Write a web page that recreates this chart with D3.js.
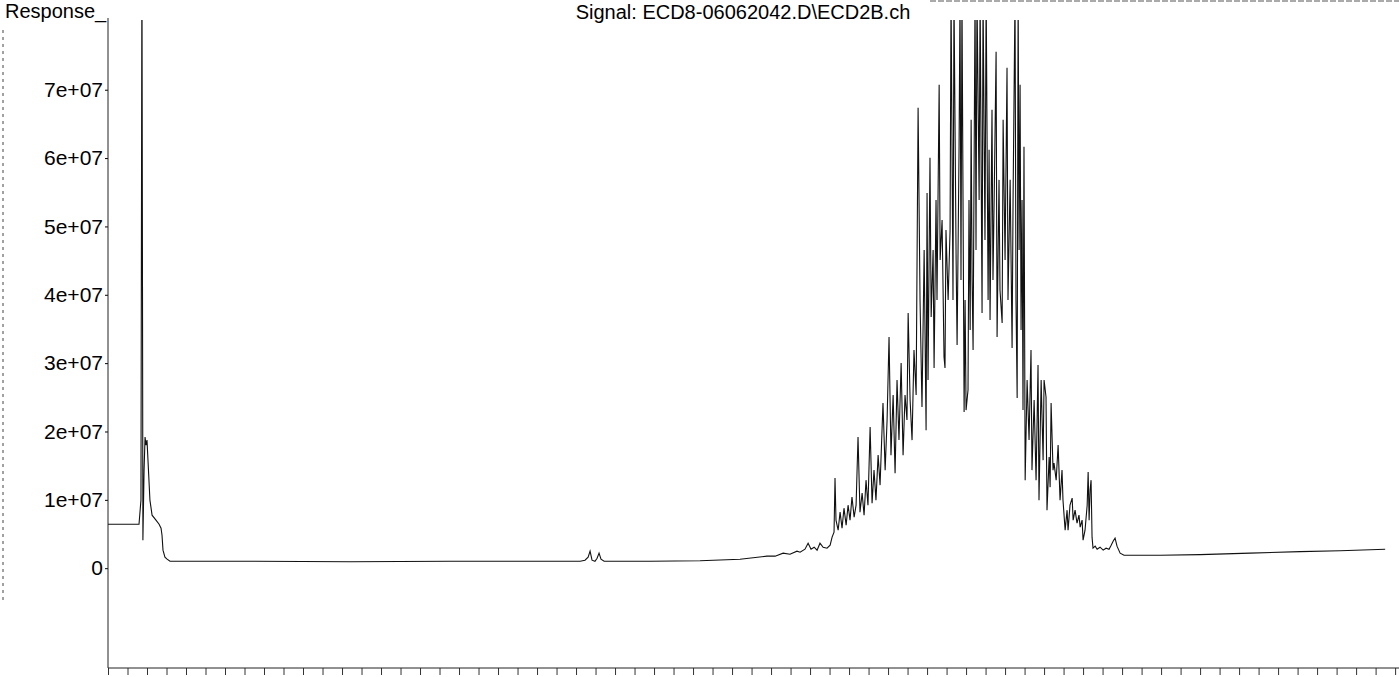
<!DOCTYPE html>
<html>
<head>
<meta charset="utf-8">
<script src="https://cdn.jsdelivr.net/npm/d3@7"></script>
<style>
  html, body { margin: 0; padding: 0; background: #fff; }
  svg { display: block; font-family: "Liberation Sans", Arial, sans-serif; }
</style>
</head>
<body>
<div id="chart"></div>
<script>
// retention time (min) and detector response (x 1e6 counts)
const retTime = [
  0.00, 1.59, 1.69, 1.74, 1.79, 1.85, 1.90, 1.95, 2.00, 2.05, 2.15, 2.26, 2.46, 2.62, 2.72, 2.77, 2.82, 2.92, 3.03, 3.18,
  7.28, 12.41, 17.54, 23.18, 24.21, 24.46, 24.62, 24.72, 24.82, 24.97, 25.08, 25.18, 25.28, 25.44, 27.79, 30.36, 32.41,
  33.79, 34.21, 34.62, 34.97, 35.33, 35.49, 35.74, 35.90, 36.05, 36.21, 36.36, 36.51, 36.67, 36.87, 37.03, 37.13, 37.23, 37.28, 37.33, 37.44,
  37.54, 37.64, 37.74, 37.85, 37.95, 38.05, 38.15, 38.26, 38.36, 38.46, 38.56, 38.67, 38.77, 38.87, 38.97, 39.08, 39.18, 39.28, 39.38, 39.49, 39.59,
  39.74, 39.85, 39.95, 40.05, 40.15, 40.26, 40.36, 40.46, 40.56, 40.67, 40.77, 40.87, 40.97, 41.03, 41.13, 41.23, 41.33, 41.44, 41.54, 41.64,
  41.74, 41.85, 41.95, 42.00, 42.05, 42.15, 42.21, 42.31, 42.36, 42.46, 42.51, 42.62, 42.67, 42.77, 42.87, 42.92, 42.97, 43.08, 43.18,
  43.23, 43.33, 43.38, 43.49, 43.54, 43.64, 43.69, 43.74, 43.79, 43.90, 43.95, 44.00, 44.10, 44.15, 44.21, 44.26, 44.31, 44.36,
  44.46, 44.51, 44.56, 44.67, 44.72, 44.82, 44.87, 44.97, 45.03, 45.13, 45.18, 45.23, 45.33, 45.38, 45.44, 45.54, 45.59, 45.69, 45.74,
  45.85, 45.90, 46.00, 46.10, 46.15, 46.26, 46.36, 46.41, 46.51, 46.56, 46.62, 46.67, 46.72, 46.77, 46.82, 46.87, 46.92, 46.97, 47.03,
  47.13, 47.23, 47.33, 47.38, 47.49, 47.59, 47.69, 47.74, 47.85, 47.95, 48.00, 48.10, 48.15, 48.26, 48.31, 48.36, 48.46, 48.51, 48.62,
  48.72, 48.82, 48.92, 48.97, 49.08, 49.18, 49.23, 49.33, 49.44, 49.49, 49.59, 49.69, 49.79, 49.85, 49.95, 50.00, 50.10, 50.21, 50.26,
  50.31, 50.36, 50.41, 50.46, 50.51, 50.62, 50.72, 50.87, 51.03, 51.18, 51.33, 51.44, 51.54, 51.64, 51.74, 51.90, 52.10,
  53.95, 56.00, 58.56, 61.13, 63.18, 65.49
];
const response = [
  6.44, 6.44, 9.96, 90.0, 4.10, 14.35, 19.18, 18.01, 18.74, 15.81, 9.96, 7.76, 7.03, 6.44, 5.86, 4.83, 2.64, 1.61, 1.32, 1.02,
  1.02, 0.95, 1.02, 1.02, 1.02, 1.17, 1.61, 2.49, 1.17, 1.02, 1.46, 2.20, 1.32, 1.02, 1.02, 1.10, 1.32,
  1.76, 1.76, 2.20, 2.05, 2.49, 2.34, 2.78, 3.66, 2.78, 3.07, 2.64, 3.66, 3.07, 2.93, 3.37, 4.54, 5.27, 13.18, 7.03, 5.56,
  8.20, 5.86, 8.78, 6.30, 9.22, 7.03, 10.40, 7.47, 9.22, 19.18, 8.20, 10.98, 7.76, 12.88, 9.22, 20.64, 9.52, 14.35, 9.96, 16.54, 12.15,
  24.16, 14.35, 21.67, 33.82, 16.54, 25.33, 13.91, 27.53, 18.74, 30.01, 16.54, 25.33, 21.67, 37.34, 24.60, 18.74, 31.92, 25.33, 67.35, 39.24,
  23.57, 46.56, 20.20, 54.90, 27.53, 60.03, 36.75, 46.56, 29.28, 53.88, 39.24, 70.72, 45.10, 50.95, 30.89, 29.28, 49.49, 39.24, 49.49,
  84.0, 39.24, 84.0, 45.10, 32.65, 61.20, 84.0, 42.17, 84.0, 22.84, 39.24, 23.13, 26.06, 53.88, 34.85, 65.59, 42.17, 31.92,
  84.0, 46.56, 84.0, 53.88, 84.0, 37.34, 84.0, 48.02, 84.0, 39.24, 61.20, 36.31, 67.06, 42.17, 53.88, 75.55, 33.82, 56.81, 40.70,
  35.87, 65.59, 45.10, 73.21, 39.24, 56.81, 32.21, 53.88, 84.0, 39.24, 24.89, 84.0, 46.56, 70.72, 34.85, 53.88, 23.13, 61.64, 12.88,
  27.53, 18.74, 31.92, 14.35, 24.60, 12.88, 29.72, 9.96, 27.53, 15.81, 27.53, 25.04, 8.49, 16.25, 11.86, 24.16, 14.35, 15.37, 12.88,
  18.01, 9.96, 14.35, 9.96, 5.56, 8.49, 5.56, 9.22, 10.25, 7.03, 8.49, 6.59, 7.76, 6.00, 7.03, 4.10, 5.56, 9.22, 14.06,
  7.03, 11.42, 12.88, 4.54, 2.93, 3.22, 2.78, 3.07, 2.64, 2.93, 2.78, 3.37, 3.95, 4.39, 3.22, 2.20, 1.90,
  1.90, 1.98, 2.20, 2.42, 2.56, 2.78
];

const yTicks = [0, 1e7, 2e7, 3e7, 4e7, 5e7, 6e7, 7e7];
const yTickLabels = ["0", "1e+07", "2e+07", "3e+07", "4e+07", "5e+07", "6e+07", "7e+07"];
const xTicks = d3.range(0, 67, 1);

const chartTitle = "Signal: ECD8-06062042.D\\ECD2B.ch";
const yTitle = "Response_";

const W = 1399, H = 677;
const plot = {left: 108, right: 1399, top: 20, bottom: 668};

const svg = d3.select("#chart").append("svg")
    .attr("width", W)
    .attr("height", H);

const x = d3.scaleLinear().domain([0, 66.2]).range([plot.left, plot.right]);
const y = d3.scaleLinear().domain([-14.6e6, 80.2e6]).range([plot.bottom, plot.top]);

// scanned page edges
svg.append("line")
    .attr("x1", 3).attr("x2", 3).attr("y1", 30).attr("y2", 600)
    .attr("stroke", "#444").attr("stroke-dasharray", "3,4");
svg.append("line")
    .attr("x1", 930).attr("x2", W).attr("y1", 1).attr("y2", 1)
    .attr("stroke", "#555").attr("stroke-dasharray", "6,2");

svg.append("defs").append("clipPath").attr("id", "clip")
  .append("rect")
    .attr("x", plot.left).attr("y", plot.top)
    .attr("width", plot.right - plot.left)
    .attr("height", plot.bottom - plot.top);

// axes
const yAxis = svg.append("g")
    .attr("transform", `translate(${plot.left},0)`)
    .call(d3.axisLeft(y).tickValues(yTicks).tickSize(3).tickPadding(2)
        .tickFormat((d, i) => yTickLabels[i]));
yAxis.select(".domain").remove();
yAxis.append("line")
    .attr("x1", 0).attr("x2", 0).attr("y1", plot.top - 2).attr("y2", plot.bottom)
    .attr("stroke", "#222");
yAxis.selectAll("text")
    .attr("fill", "#000")
    .style("font-size", "21px");

const xAxis = svg.append("g")
    .attr("transform", `translate(0,${plot.bottom})`)
    .call(d3.axisBottom(x).tickValues(xTicks).tickSize(7).tickFormat(""));
xAxis.select(".domain").remove();
xAxis.append("line")
    .attr("x1", plot.left).attr("x2", plot.right)
    .attr("stroke", "#222");
xAxis.selectAll(".tick line").attr("stroke", "#333");

// trace
const pts = retTime.map((t, i) => [t, response[i] * 1e6]);
const line = d3.line()
    .x(d => x(d[0]))
    .y(d => y(d[1]));

svg.append("path")
    .datum(pts)
    .attr("clip-path", "url(#clip)")
    .attr("fill", "none")
    .attr("stroke", "#111")
    .attr("stroke-width", 1.1)
    .attr("d", line);

// titles
svg.append("text")
    .attr("x", 5).attr("y", 18)
    .style("font-size", "20px")
    .text(yTitle);

svg.append("text")
    .attr("x", 743).attr("y", 19)
    .attr("text-anchor", "middle")
    .style("font-size", "20px")
    .text(chartTitle);
</script>
</body>
</html>
